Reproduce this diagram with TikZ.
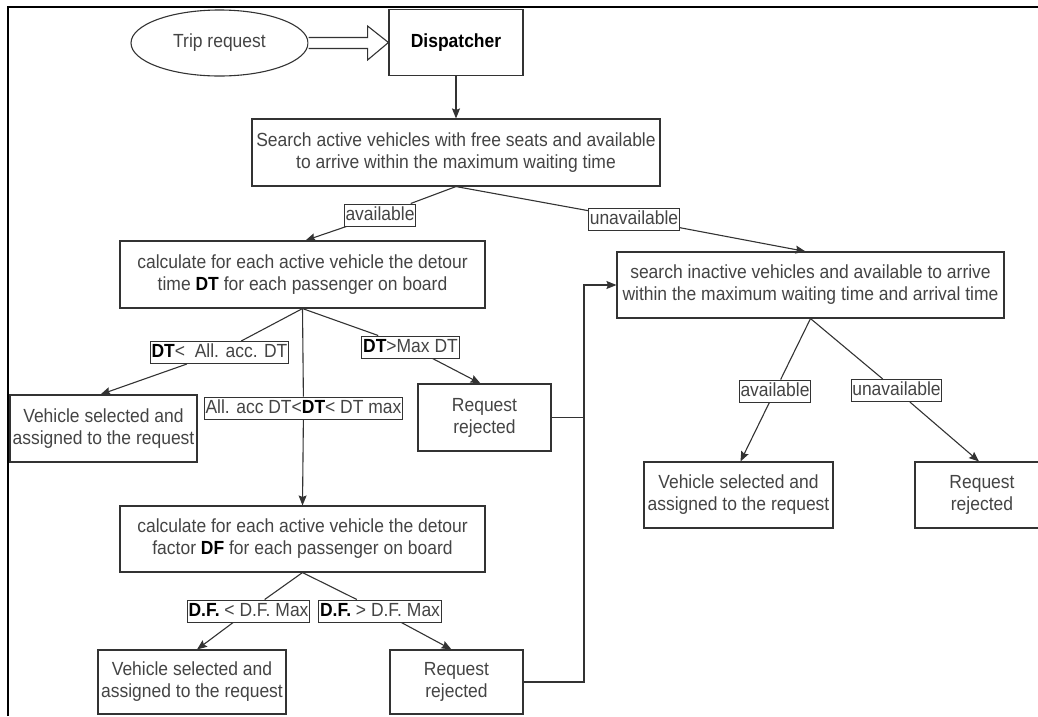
\documentclass[tikz,border=0pt]{standalone}
\usepackage{fontspec}
\setmainfont{Liberation Sans}[FakeStretch=0.92]
\usetikzlibrary{shapes.geometric,arrows.meta,calc}
\definecolor{txt}{HTML}{444444}
\definecolor{ln}{HTML}{333333}
\begin{document}
\begin{tikzpicture}[x=1pt,y=-1pt,
  every node/.style={font=\fontsize{19}{22}\selectfont, text=txt},
  box/.style={draw=ln, line width=1.1pt, rectangle, align=center, inner sep=0pt, fill=white},
  lbl/.style={draw=ln, line width=1pt, rectangle, fill=white, inner xsep=1.2pt, inner ysep=2pt, text height=14pt, text depth=4pt},
  conn/.style={draw=ln, line width=1.1pt},
  arr/.style={conn, -{Stealth[length=10pt,width=8pt,inset=1.5pt]}},
]
\useasboundingbox (0,0) rectangle (1038,716);
% frame
\draw[line width=2.5pt, black] (8,716) -- (8,7) -- (1038,7);

% main nodes
\node[draw=ln, line width=1.1pt, ellipse, minimum width=177pt, minimum height=66pt, inner sep=0pt] (trip) at (219.5,43) {Trip request};
\node[box, minimum width=134pt, minimum height=66pt] (disp) at (456,42.5) {\textcolor{black}{\textbf{Dispatcher}}};
\node[box, minimum width=408pt, minimum height=67pt] (search) at (456,152.5) {Search active vehicles with free seats and available\\to arrive within the maximum waiting time};
\node[box, minimum width=365pt, minimum height=67pt] (calcdt) at (302.5,274.5) {calculate for each active vehicle the detour\\time \textcolor{black}{\textbf{DT}} for each passenger on board};
\node[box, minimum width=387pt, minimum height=66pt] (inact) at (810.5,285) {search inactive vehicles and available to arrive\\within the maximum waiting time and arrival time};
\node[box, minimum width=187pt, minimum height=67pt] (veh1) at (103.5,428.5) {Vehicle selected and\\assigned to the request};
\node[box, minimum width=133pt, minimum height=67pt] (rej1) at (484.5,417.5) {Request\\rejected};
\node[box, minimum width=365pt, minimum height=66pt] (calcdf) at (302.5,539) {calculate for each active vehicle the detour\\factor \textcolor{black}{\textbf{DF}} for each passenger on board};
\node[box, minimum width=188pt, minimum height=64pt] (veh3) at (192,682) {Vehicle selected and\\assigned to the request};
\node[box, minimum width=133pt, minimum height=64pt] (rej2) at (456.5,682) {Request\\rejected};
\node[box, minimum width=189pt, minimum height=66pt] (veh2) at (738.5,495) {Vehicle selected and\\assigned to the request};
\node[box, minimum width=134pt, minimum height=66pt] (rej3) at (982,495) {Request\\rejected};

% labels
\node[lbl] (lav1) at (380,215) {available};
\node[lbl] (lun1) at (634,219) {unavailable};
\node[lbl] (l1) at (219.5,352.5) {\textcolor{black}{\textbf{DT}}<\ \ All. acc. DT};
\node[lbl] (l2) at (303.5,408) {All. acc DT<\textcolor{black}{\textbf{DT}}< DT max};
\node[lbl] (l3) at (410.5,347) {\textcolor{black}{\textbf{DT}}>Max DT};
\node[lbl] (l4) at (248.5,611) {\textcolor{black}{\textbf{D.F.}} < D.F. Max};
\node[lbl] (l5) at (380,611) {\textcolor{black}{\textbf{D.F.}} > D.F. Max};
\node[lbl] (lav2) at (775,391) {available};
\node[lbl] (lun2) at (896.5,390.5) {unavailable};

% hollow block arrow
\draw[draw=ln, line width=1.1pt, fill=white]
  ($(trip.east)+(0,-5.5)$) -- ($(trip.east)+(59,-5.5)$) -- ($(trip.east)+(59,-17)$)
  -- (disp.west) -- ($(trip.east)+(59,17)$) -- ($(trip.east)+(59,5.5)$) -- ($(trip.east)+(0,5.5)$);

% connectors
\draw[arr] (disp.south) -- (search.north);
\draw[arr] (search.south) -- (lav1) -- ($(calcdt.north)+(3,0)$);
\draw[arr] (search.south) -- (lun1) -- ($(inact.north)+(-5,0)$);
\draw[arr] (calcdt.south) -- (l1) -- ($(veh1.north)+(-3,0)$);
\draw[arr] (calcdt.south) -- (l2) -- (calcdf.north);
\draw[arr] (calcdt.south) -- (l3) -- ($(rej1.north)+(-4,0)$);
\draw[arr] (calcdf.south) -- (l4) -- ($(veh3.north)+(5,0)$);
\draw[arr] (calcdf.south) -- (l5) -- ($(rej2.north)+(-5,0)$);
\draw[arr] (inact.south) -- (lav2) -- ($(veh2.north)+(2,0)$);
\draw[arr] (inact.south) -- (lun2) -- ($(rej3.north)+(-3,0)$);

\coordinate (jx) at (584,0);
\draw[conn] (rej1.east) -- (rej1.east -| jx);
\draw[arr] (rej2.east) -- (rej2.east -| jx) |- (inact.west);
\end{tikzpicture}
\end{document}
